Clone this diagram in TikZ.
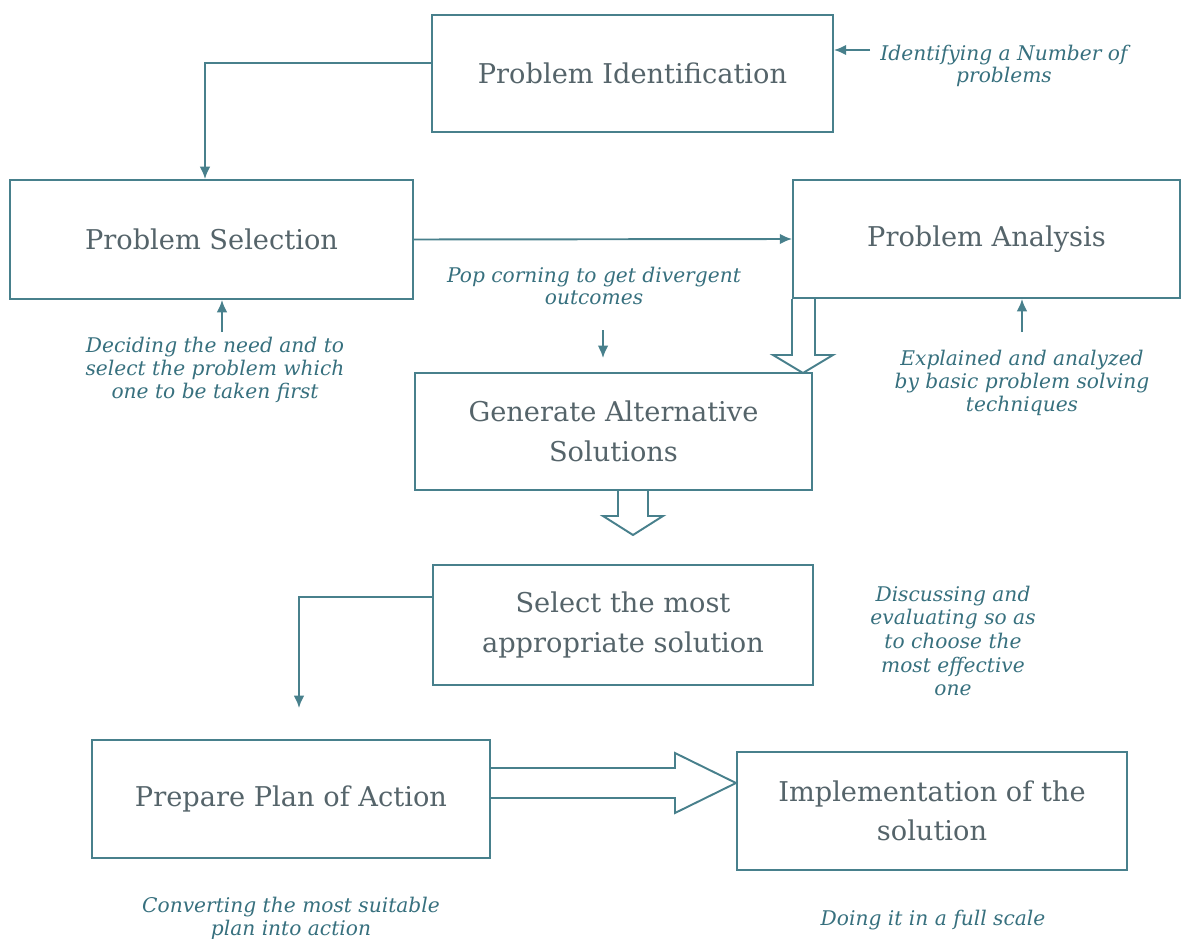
\documentclass[tikz,border=0pt]{standalone}
\usepackage{fontspec}
\setmainfont{DejaVu Serif}
\usetikzlibrary{arrows.meta}
\definecolor{flowline}{RGB}{72,128,140}
\definecolor{boxtext}{RGB}{85,100,106}
\definecolor{notetext}{RGB}{55,112,126}

\begin{document}
\begin{tikzpicture}[x=0.02cm, y=-0.02cm,
  stage/.style={draw=flowline, line width=1.1pt, text=boxtext, align=center,
    font=\fontsize{15.5}{22.5}\selectfont},
  note/.style={text=notetext, align=center, inner sep=0pt,
    font=\fontsize{11.5}{13}\selectfont\itshape},
  tip/.style={draw=flowline, line width=1.1pt, -{Latex[length=7pt,width=6pt]}},
  hollow/.style={draw=flowline, line width=1.1pt, fill=white}]
\useasboundingbox (0,0) rectangle (1193,939);

\node[stage, minimum width=8.02cm, minimum height=2.34cm] (pi) at (632.5,73.5) {Problem Identification};
\node[stage, minimum width=8.06cm, minimum height=2.38cm] (ps) at (211.5,239.5) {Problem Selection};
\node[stage, minimum width=7.74cm, minimum height=2.36cm] (pa) at (986.5,239) {Problem Analysis};
\node[stage, minimum width=7.94cm, minimum height=2.34cm] (gen) at (613.5,431.5) {Generate Alternative\\Solutions};
\node[stage, minimum width=7.6cm, minimum height=2.4cm] (sel) at (623,625) {Select the most\\appropriate solution};
\node[stage, minimum width=7.96cm, minimum height=2.36cm] (prep) at (291,799) {Prepare Plan of Action};
\node[stage, minimum width=7.8cm, minimum height=2.36cm] (imp) at (932,811) {Implementation of the\\solution};

\node[note] (idNote) at (1004,66) {Identifying a Number of\\problems};
\node[note] (popNote) at (594,286) {Pop corning to get divergent\\outcomes};
\node[note] (selNote) at (215,370) {Deciding the need and to\\select the problem which\\one to be taken first};
\node[note] (anaNote) at (1022,383) {Explained and analyzed\\by basic problem solving\\techniques};
\node[note, font=\fontsize{11.5}{13.5}\selectfont\itshape] (discNote) at (953,641) {Discussing and\\evaluating so as\\to choose the\\most effective\\one};
\node[note] (convNote) at (291,918) {Converting the most suitable\\plan into action};
\node[note] (doNote) at (933,920) {Doing it in a full scale};

\coordinate (idTail) at (870,50);
\coordinate (selTail) at (222,332);
\coordinate (anaTail) at (1022,332);
\coordinate (popTail) at (603,330);
\coordinate (popHead) at (603,358);
\coordinate (prepHead) at (299,708);

\draw[tip] (idTail) -- (idTail -| pi.east);
\draw[tip] (pi.west |- 0,63) -| (ps.north -| 205,0);
\draw[tip] (ps.east) -- (pa.west);
\draw[tip] (selTail) -- (selTail |- ps.south);
\draw[tip] (anaTail) -- (anaTail |- pa.south);
\draw[tip] (popTail) -- (popHead);
\draw[tip] (sel.west |- 0,597) -| (prepHead);

\draw[hollow] (792,299) -- (792,355) -- (773,355) -- (803,373) -- (833,355) -- (815,355) -- (815,299);
\draw[hollow] (618,491) -- (618,516) -- (603,516) -- (633,535) -- (663,516) -- (648,516) -- (648,491);
\draw[hollow] (491,768) -- (675,768) -- (675,753) -- (736,783) -- (675,813) -- (675,798) -- (491,798);
\end{tikzpicture}
\end{document}
